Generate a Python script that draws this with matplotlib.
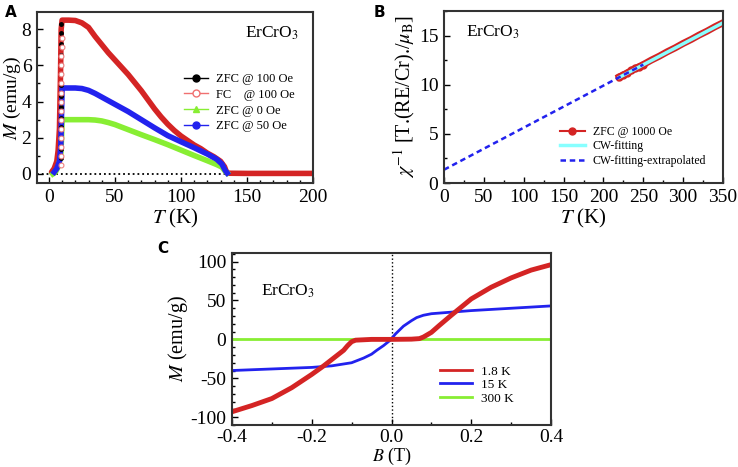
import matplotlib
matplotlib.use("Agg")
import matplotlib.pyplot as plt
from matplotlib.ticker import MultipleLocator

plt.rcParams['font.family'] = ['Liberation Serif', 'DejaVu Serif']
plt.rcParams['mathtext.fontset'] = 'stix'
plt.rcParams['axes.unicode_minus'] = False

# colours
red = '#d42424'
blue = '#2222ee'
green = '#88ee33'
cyan = '#88ffff'

# panel A: M(T), ErCrO3
fc_T = [2, 4, 6, 7, 8, 8.8, 9.3, 10, 15, 20, 25, 30, 35, 40, 45, 50, 55, 60, 65, 70, 75, 80,
        85, 90, 95, 100, 105, 110, 115, 120, 125, 130, 133, 134.5, 136, 150, 175, 200]
fc_M = [0.1, 0.3, 0.7, 1.3, 2.5, 5.5, 8.0, 8.5, 8.5, 8.48, 8.35, 8.1, 7.6, 7.15, 6.7, 6.3,
        5.9, 5.5, 5.05, 4.6, 4.1, 3.6, 3.15, 2.75, 2.4, 2.1, 1.85, 1.6, 1.4, 1.15, 0.95, 0.7,
        0.4, 0.1, 0.04, 0.03, 0.03, 0.03]
fc_rise_T = [8.9, 9.0, 9.0, 9.1, 9.1, 9.2, 9.2, 9.3, 9.3, 9.4, 9.4, 9.5, 9.5, 9.6, 9.6]
fc_rise_M = [0.5, 1.0, 1.5, 2.0, 2.5, 3.0, 3.5, 4.0, 4.5, 5.0, 5.5, 6.0, 6.5, 7.0, 7.5]
zfc100_T = [9.2, 9.2, 9.2, 9.2, 9.2, 9.2, 9.2, 9.2, 9.2, 9.2, 9.2, 9.2, 9.2, 9.2]
zfc100_M = [0.9, 1.4, 2.0, 2.6, 3.1, 3.7, 4.3, 4.9, 5.5, 6.0, 6.6, 7.2, 7.8, 8.3]
zfc0_T = [3, 5, 7, 8, 9, 9.6, 10, 20, 30, 35, 40, 45, 50, 60, 70, 80, 90, 100, 110, 120, 127,
          131, 133.5, 135]
zfc0_M = [0.0, 0.1, 0.4, 0.7, 1.0, 2.0, 3.0, 3.0, 3.0, 2.98, 2.93, 2.84, 2.73, 2.45, 2.17, 1.9,
          1.62, 1.32, 1.02, 0.73, 0.52, 0.38, 0.15, 0.05]
zfc50_T = [4, 6, 8, 9, 9.5, 10, 20, 25, 30, 35, 40, 50, 60, 70, 80, 90, 100, 110, 120, 127, 131,
           133.5, 135]
zfc50_M = [0.1, 0.3, 0.7, 1.5, 3.0, 4.75, 4.75, 4.72, 4.62, 4.45, 4.25, 3.85, 3.45, 3.0, 2.55,
           2.12, 1.78, 1.45, 1.1, 0.82, 0.55, 0.2, 0.05]

# panel B: inverse susceptibility
zfc1000_T = [220, 225, 230, 235, 240, 245, 250, 260, 270, 280, 290, 300, 310, 320, 330, 340, 350]
zfc1000_chi = [10.8, 11.0, 11.2, 11.45, 11.65, 11.85, 12.05, 12.5, 12.9, 13.35, 13.75, 14.2,
               14.6, 15.05, 15.45, 15.9, 16.3]
cw_T = [220, 350]
cw_chi = [10.75, 16.3]
cwx_T = [0, 250]
cwx_chi = [1.35, 12.05]

# panel C: M(B)
b18 = [-0.4, -0.35, -0.3, -0.25, -0.2, -0.17, -0.15, -0.13, -0.12, -0.11, -0.1, -0.09, -0.05,
       0.0, 0.05, 0.07, 0.08, 0.1, 0.12, 0.15, 0.2, 0.25, 0.3, 0.35, 0.4]
m18 = [-93, -85, -76, -62, -45, -34, -26, -18, -14, -8, -3, -1, 0, 0, 0.3, 1, 3, 9, 18, 31, 52,
       67, 79, 89, 96]
b15 = [-0.4, -0.3, -0.2, -0.15, -0.1, -0.07, -0.05, -0.037, -0.02, -0.003, 0.01, 0.03, 0.05,
       0.063, 0.08, 0.1, 0.15, 0.2, 0.3, 0.4]
m15 = [-40, -38, -36, -34, -30, -24, -19, -14, -8, -1, 7, 17, 24, 28, 31, 33, 35, 37, 40, 43]
b300 = [-0.4, 0.4]
m300 = [0, 0]

fig = plt.figure(figsize=(7.38, 4.67), dpi=100)
W, H = 738, 467


def box(l, t, r, b):
    return [l / W, (H - b) / H, (r - l) / W, (b - t) / H]


def style(ax):
    ax.tick_params(which='both', direction='in', top=False, right=False, labelsize=14, pad=4)
    ax.tick_params(which='major', length=4, width=1)
    ax.tick_params(which='minor', length=2.5, width=1)
    for s in ax.spines.values():
        s.set_linewidth(1.5)
        s.set_color('#333333')


# ---- A ----
ax = fig.add_axes(box(37, 12, 313, 183))
ax.axhline(0, xmin=0, xmax=0.69, color='black', ls=':', lw=1.3)
ax.plot(fc_T, fc_M, color=red, lw=4, solid_capstyle='round')
ax.plot(zfc0_T, zfc0_M, color=green, lw=4)
ax.plot(zfc50_T, zfc50_M, color=blue, lw=4)
ax.plot(zfc100_T, zfc100_M, ls='none', marker='o', ms=2.5, color='black')
ax.plot(fc_rise_T, fc_rise_M, ls='none', marker='o', ms=3.5, mfc='white', mec='#f08080', mew=0.8)
ax.plot([], [], color='black', marker='o', ms=5, lw=1, label='ZFC @ 100 Oe')
ax.plot([], [], color='#f07070', marker='o', ms=5, mfc='white', lw=1, label='FC    @ 100 Oe')
ax.plot([], [], color=green, marker='^', ms=5, lw=1, label='ZFC @ 0 Oe')
ax.plot([], [], color=blue, marker='o', ms=5, lw=1, label='ZFC @ 50 Oe')
ax.legend(loc='center right', bbox_to_anchor=(0.955, 0.47), frameon=False, fontsize=9,
          handlelength=1.9, labelspacing=0.3, handletextpad=0.6, borderpad=0)
ax.set_xlim(-9, 200)
ax.set_ylim(-0.5, 8.95)
ax.xaxis.set_major_locator(MultipleLocator(50))
ax.xaxis.set_minor_locator(MultipleLocator(10))
ax.yaxis.set_major_locator(MultipleLocator(2))
ax.yaxis.set_minor_locator(MultipleLocator(1))
style(ax)
ax.set_xlabel('$T$ (K)', fontsize=15, labelpad=1)
ax.set_ylabel('$M$ (emu/g)', fontsize=14, labelpad=-1)
ax.text(0.95, 0.85, r'ErCrO$_3$', transform=ax.transAxes, ha='right', fontsize=12.5)
fig.text(5 / W, 1 - 17 / H, 'A', family='DejaVu Sans', weight='bold', fontsize=11)

# ---- B ----
ax = fig.add_axes(box(444, 11, 723, 183))
ax.plot(zfc1000_T, zfc1000_chi, color=red, lw=5, marker='o', ms=5,
        markevery=[0, 1, 2, 3, 4, 5, 6], label='ZFC @ 1000 Oe')
ax.plot(cw_T, cw_chi, color=cyan, lw=2.5, label='CW-fitting')
ax.plot(cwx_T, cwx_chi, color=blue, lw=1.8, ls=(0, (2.2, 1.5)), label='CW-fitting-extrapolated')
ax.set_xlim(0, 350)
ax.set_ylim(0, 17.5)
ax.xaxis.set_major_locator(MultipleLocator(50))
ax.xaxis.set_minor_locator(MultipleLocator(25))
ax.yaxis.set_major_locator(MultipleLocator(5))
ax.yaxis.set_minor_locator(MultipleLocator(2.5))
style(ax)
leg = ax.legend(loc='lower right', bbox_to_anchor=(0.96, 0.06), frameon=False, fontsize=8.5,
                handlelength=2.2, labelspacing=0.2, handletextpad=0.6, borderpad=0)
leg.legend_handles[0].set_linewidth(1.5)
leg.legend_handles[0].set_markersize(5)
ax.set_xlabel('$T$ (K)', fontsize=15, labelpad=1)
ax.set_ylabel(r'$\chi^{-1}$ [T.(RE/Cr)./$\mu_\mathrm{B}$]', fontsize=14.5, labelpad=1)
ax.text(0.08, 0.85, r'ErCrO$_3$', transform=ax.transAxes, fontsize=12.5)
fig.text(374 / W, 1 - 17 / H, 'B', family='DejaVu Sans', weight='bold', fontsize=11)

# ---- C ----
ax = fig.add_axes(box(232, 253, 551, 425))
ax.axvline(0, color='black', ls=':', lw=1)
ax.plot(b300, m300, color=green, lw=2, label='300 K')
ax.plot(b15, m15, color=blue, lw=2, label='15 K')
ax.plot(b18, m18, color=red, lw=3.5, label='1.8 K')
h, l = ax.get_legend_handles_labels()
leg = ax.legend(h[::-1], l[::-1], loc='lower right', bbox_to_anchor=(0.905, 0.08),
                frameon=False, fontsize=9.5, handlelength=2.4, labelspacing=0.1,
                handletextpad=0.7, borderpad=0)
for ln in leg.legend_handles:
    ln.set_linewidth(2)
ax.set_xlim(-0.4, 0.4)
ax.set_ylim(-110, 111)
ax.xaxis.set_major_locator(MultipleLocator(0.2))
ax.xaxis.set_minor_locator(MultipleLocator(0.1))
ax.yaxis.set_major_locator(MultipleLocator(50))
ax.yaxis.set_minor_locator(MultipleLocator(10))
style(ax)
ax.tick_params(axis='x', pad=3)
ax.set_xlabel('$B$ (T)', fontsize=13, labelpad=0)
ax.set_ylabel('$M$ (emu/g)', fontsize=14.5, labelpad=0)
ax.text(0.09, 0.75, r'ErCrO$_3$', transform=ax.transAxes, fontsize=12.5)
fig.text(157 / W, 1 - 253 / H, 'C', family='DejaVu Sans', weight='bold', fontsize=11)

fig.savefig('out.png', dpi=100)
